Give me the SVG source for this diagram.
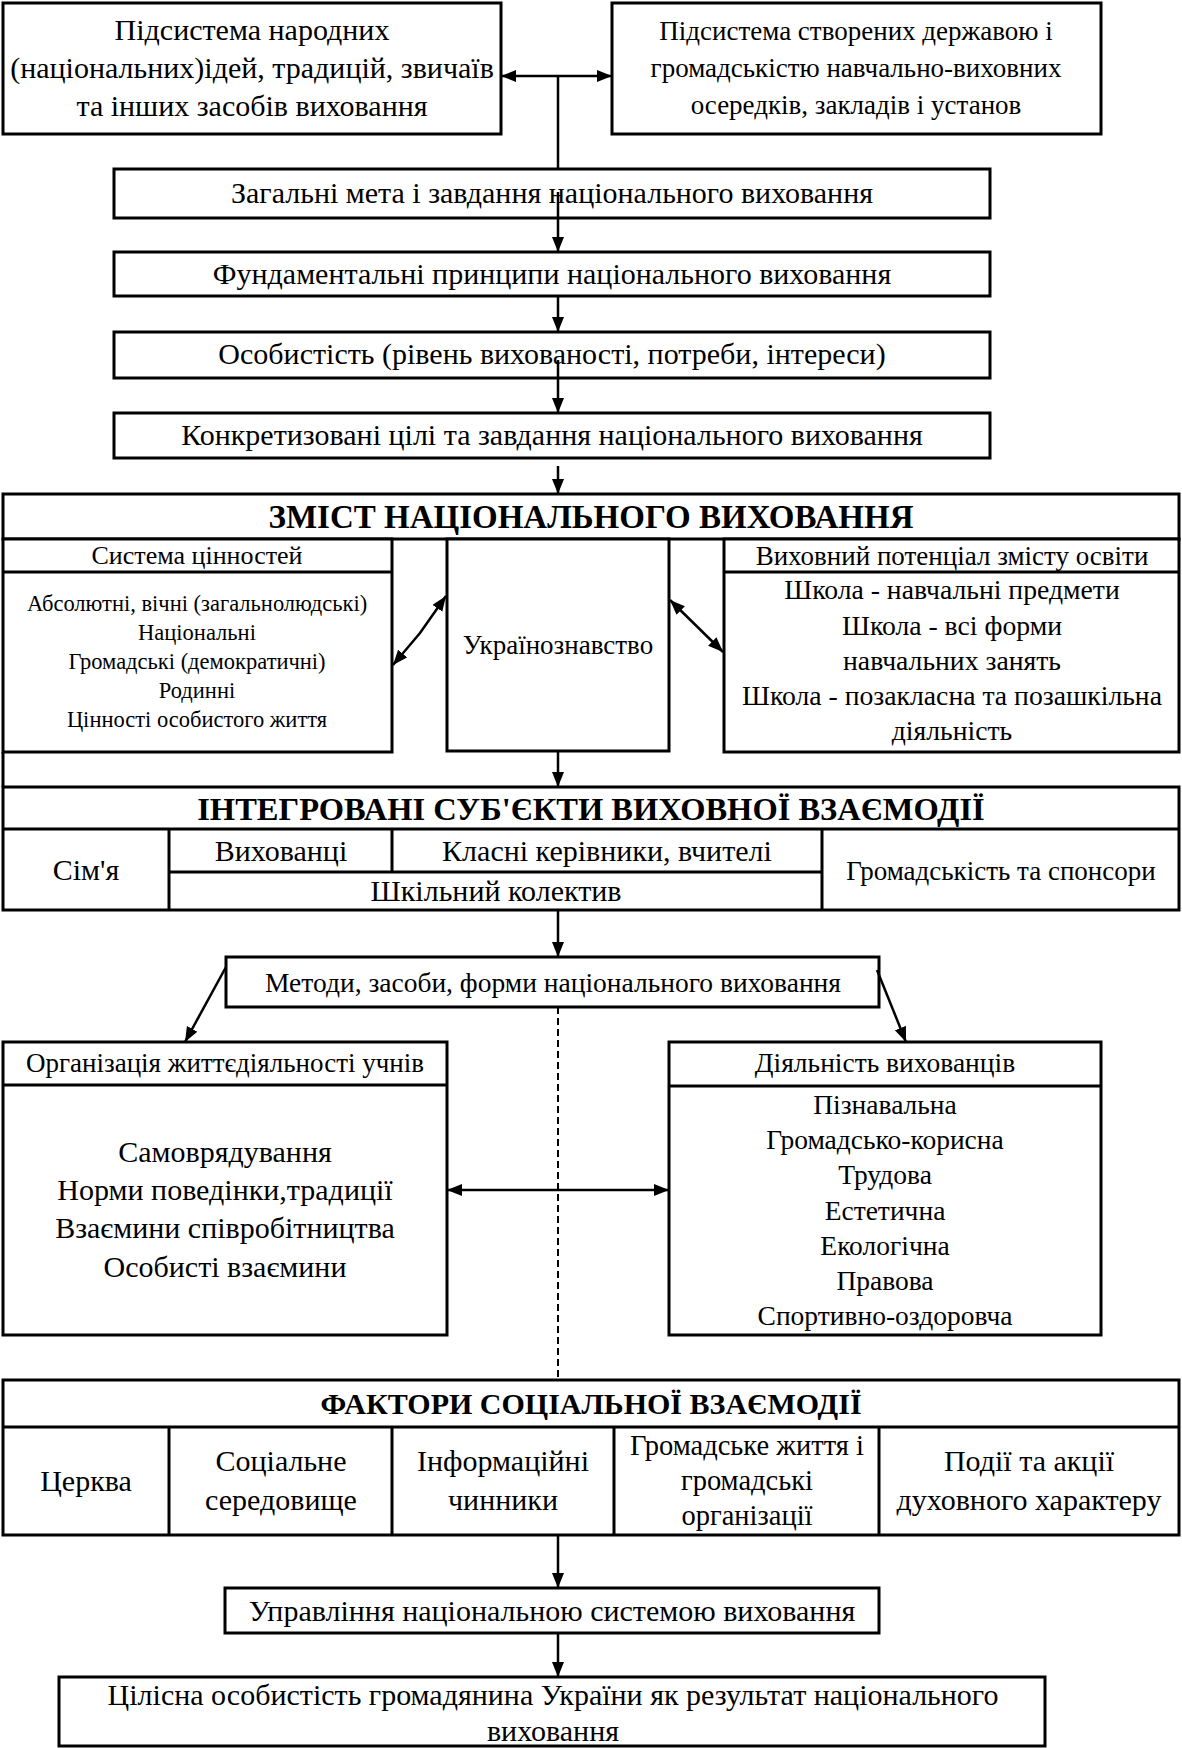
<svg xmlns="http://www.w3.org/2000/svg" width="1182" height="1748" viewBox="0 0 1182 1748">
<style>
  .bx{fill:#fff;stroke:#000;stroke-width:3}
  .ln{fill:none;stroke:#000;stroke-width:3}
  .t{font-family:"Liberation Serif","Times New Roman",serif;fill:#000;text-anchor:middle}
  .b{font-weight:bold}
  .c{fill:none;stroke:#000;stroke-width:2.5}
  .d{fill:none;stroke:#000;stroke-width:2;stroke-dasharray:7 4}
</style>
<defs>
  <marker id="ah" markerUnits="userSpaceOnUse" markerWidth="16" markerHeight="13" refX="15" refY="6" orient="auto-start-reverse">
    <path d="M0,0 L15,6 L0,12 z" fill="#000"/>
  </marker>
</defs>
<rect width="1182" height="1748" fill="#fff"/>

<g id="node-folk">
  <rect class="bx" x="3" y="3" width="498" height="131"/>
  <text class="t" font-size="30" x="252" y="40">Підсистема народних</text>
  <text class="t" font-size="30" x="252" y="78">(національних)ідей, традицій, звичаїв</text>
  <text class="t" font-size="30" x="252" y="116">та інших засобів виховання</text>
</g>
<g id="node-state">
  <rect class="bx" x="612" y="3" width="489" height="131"/>
  <text class="t" font-size="27" x="856" y="40">Підсистема створених державою і</text>
  <text class="t" font-size="27" x="856" y="77">громадськістю навчально-виховних</text>
  <text class="t" font-size="27" x="856" y="114">осередків, закладів і установ</text>
</g>
<g id="node-goals">
  <rect class="bx" x="114" y="169" width="876" height="49"/>
  <text class="t" font-size="30" x="552" y="203">Загальні мета і завдання національного виховання</text>
</g>
<g id="node-principles">
  <rect class="bx" x="114" y="252" width="876" height="44"/>
  <text class="t" font-size="30" x="552" y="284">Фундаментальні принципи національного виховання</text>
</g>
<g id="node-personality">
  <rect class="bx" x="114" y="332" width="876" height="46"/>
  <text class="t" font-size="30" x="552" y="364">Особистість (рівень вихованості, потреби, інтереси)</text>
</g>
<g id="node-concrete">
  <rect class="bx" x="114" y="413" width="876" height="45"/>
  <text class="t" font-size="30" x="552" y="445">Конкретизовані цілі та завдання національного виховання</text>
</g>

<g id="node-content">
  <rect class="bx" x="3" y="494" width="1176" height="45"/>
  <text class="t b" font-size="33" x="591" y="528">ЗМІСТ НАЦІОНАЛЬНОГО ВИХОВАННЯ</text>
  <line class="ln" x1="3" y1="752" x2="3" y2="787"/>
</g>
<g id="node-values">
  <rect class="bx" x="3" y="539" width="389" height="213"/>
  <line class="ln" x1="3" y1="572" x2="392" y2="572"/>
  <text class="t" font-size="26" x="197" y="564">Система цінностей</text>
  <text class="t" font-size="22.5" x="197" y="611">Абсолютні, вічні (загальнолюдські)</text>
  <text class="t" font-size="22.5" x="197" y="640">Національні</text>
  <text class="t" font-size="22.5" x="197" y="669">Громадські (демократичні)</text>
  <text class="t" font-size="22.5" x="197" y="698">Родинні</text>
  <text class="t" font-size="22.5" x="197" y="727">Цінності особистого життя</text>
</g>
<g id="node-ukrainian-studies">
  <rect class="bx" x="447" y="539" width="222" height="212"/>
  <text class="t" font-size="27" x="558" y="654">Українознавство</text>
</g>
<g id="node-potential">
  <rect class="bx" x="724" y="539" width="455" height="213"/>
  <line class="ln" x1="724" y1="572" x2="1179" y2="572"/>
  <text class="t" font-size="27" x="952" y="565">Виховний потенціал змісту освіти</text>
  <text class="t" font-size="27.7" x="952" y="599">Школа - навчальні предмети</text>
  <text class="t" font-size="27.7" x="952" y="635">Школа - всі форми</text>
  <text class="t" font-size="27.7" x="952" y="670">навчальних занять</text>
  <text class="t" font-size="27.7" x="952" y="705">Школа - позакласна та позашкільна</text>
  <text class="t" font-size="27.7" x="952" y="740">діяльність</text>
</g>

<g id="node-subjects">
  <rect class="bx" x="3" y="787" width="1176" height="123"/>
  <line class="ln" x1="3" y1="829" x2="1179" y2="829"/>
  <line class="ln" x1="169" y1="829" x2="169" y2="910"/>
  <line class="ln" x1="392" y1="829" x2="392" y2="872"/>
  <line class="ln" x1="822" y1="829" x2="822" y2="910"/>
  <line class="ln" x1="169" y1="872" x2="822" y2="872"/>
  <text class="t b" font-size="32.5" x="591" y="820">ІНТЕГРОВАНІ СУБ'ЄКТИ ВИХОВНОЇ ВЗАЄМОДІЇ</text>
  <text class="t" font-size="30" x="86" y="880">Сім'я</text>
  <text class="t" font-size="30" x="281" y="861">Вихованці</text>
  <text class="t" font-size="30" x="607" y="861">Класні керівники, вчителі</text>
  <text class="t" font-size="30" x="496" y="901">Шкільний колектив</text>
  <text class="t" font-size="27" x="1001" y="880">Громадськість та спонсори</text>
</g>

<g id="node-methods">
  <rect class="bx" x="226" y="957" width="653" height="50"/>
  <text class="t" font-size="27.5" x="553" y="992">Методи, засоби, форми національного виховання</text>
</g>
<g id="node-organization">
  <rect class="bx" x="3" y="1042" width="444" height="293"/>
  <line class="ln" x1="3" y1="1085" x2="447" y2="1085"/>
  <text class="t" font-size="27" x="225" y="1072">Організація життєдіяльності учнів</text>
  <text class="t" font-size="30" x="225" y="1162">Самоврядування</text>
  <text class="t" font-size="30" x="225" y="1200">Норми поведінки,традиції</text>
  <text class="t" font-size="30" x="225" y="1238">Взаємини співробітництва</text>
  <text class="t" font-size="30" x="225" y="1277">Особисті взаємини</text>
</g>
<g id="node-activity">
  <rect class="bx" x="669" y="1042" width="432" height="293"/>
  <line class="ln" x1="669" y1="1086" x2="1101" y2="1086"/>
  <text class="t" font-size="27.5" x="885" y="1072">Діяльність вихованців</text>
  <text class="t" font-size="27.5" x="885" y="1114">Пізнавальна</text>
  <text class="t" font-size="27.5" x="885" y="1149">Громадсько-корисна</text>
  <text class="t" font-size="27.5" x="885" y="1184">Трудова</text>
  <text class="t" font-size="27.5" x="885" y="1220">Естетична</text>
  <text class="t" font-size="27.5" x="885" y="1255">Екологічна</text>
  <text class="t" font-size="27.5" x="885" y="1290">Правова</text>
  <text class="t" font-size="27.5" x="885" y="1325">Спортивно-оздоровча</text>
</g>

<g id="node-factors">
  <rect class="bx" x="3" y="1380" width="1176" height="155"/>
  <line class="ln" x1="3" y1="1427" x2="1179" y2="1427"/>
  <line class="ln" x1="169" y1="1427" x2="169" y2="1535"/>
  <line class="ln" x1="392" y1="1427" x2="392" y2="1535"/>
  <line class="ln" x1="614" y1="1427" x2="614" y2="1535"/>
  <line class="ln" x1="879" y1="1427" x2="879" y2="1535"/>
  <text class="t b" font-size="30" x="591" y="1414">ФАКТОРИ СОЦІАЛЬНОЇ ВЗАЄМОДІЇ</text>
  <text class="t" font-size="30" x="86" y="1491">Церква</text>
  <text class="t" font-size="30" x="281" y="1471">Соціальне</text>
  <text class="t" font-size="30" x="281" y="1510">середовище</text>
  <text class="t" font-size="30" x="503" y="1471">Інформаційні</text>
  <text class="t" font-size="30" x="503" y="1510">чинники</text>
  <text class="t" font-size="28.5" x="747" y="1455">Громадське життя і</text>
  <text class="t" font-size="28.5" x="747" y="1490">громадські</text>
  <text class="t" font-size="28.5" x="747" y="1525">організації</text>
  <text class="t" font-size="30" x="1029" y="1471">Події та акції</text>
  <text class="t" font-size="30" x="1029" y="1510">духовного характеру</text>
</g>
<g id="node-management">
  <rect class="bx" x="225" y="1588" width="654" height="45"/>
  <text class="t" font-size="30" x="552" y="1621">Управління національною системою виховання</text>
</g>
<g id="node-result">
  <rect class="bx" x="59" y="1677" width="986" height="69"/>
  <text class="t" font-size="30" x="553" y="1705">Цілісна особистість громадянина України як результат національного</text>
  <text class="t" font-size="30" x="553" y="1741">виховання</text>
</g>

<g id="connectors">
  <line class="c" x1="501" y1="76" x2="612" y2="76" marker-start="url(#ah)" marker-end="url(#ah)"/>
  <line class="c" x1="558" y1="76" x2="558" y2="169"/>
  <line class="c" x1="558" y1="192" x2="558" y2="252" marker-end="url(#ah)"/>
  <line class="c" x1="558" y1="296" x2="558" y2="332" marker-end="url(#ah)"/>
  <line class="c" x1="558" y1="360" x2="558" y2="413" marker-end="url(#ah)"/>
  <line class="c" x1="558" y1="466" x2="558" y2="494" marker-end="url(#ah)"/>
  <polyline class="c" points="393,665 420,633 446,596" marker-start="url(#ah)" marker-end="url(#ah)"/>
  <line class="c" x1="670" y1="600" x2="723" y2="652" marker-start="url(#ah)" marker-end="url(#ah)"/>
  <line class="c" x1="558" y1="751" x2="558" y2="787" marker-end="url(#ah)"/>
  <line class="c" x1="558" y1="910" x2="558" y2="957" marker-end="url(#ah)"/>
  <line class="c" x1="226" y1="967" x2="185" y2="1042" marker-end="url(#ah)"/>
  <line class="c" x1="877" y1="970" x2="906" y2="1042" marker-end="url(#ah)"/>
  <line class="d" x1="558" y1="1007" x2="558" y2="1380"/>
  <line class="c" x1="447" y1="1190" x2="669" y2="1190" marker-start="url(#ah)" marker-end="url(#ah)"/>
  <line class="c" x1="558" y1="1535" x2="558" y2="1588" marker-end="url(#ah)"/>
  <line class="c" x1="558" y1="1633" x2="558" y2="1677" marker-end="url(#ah)"/>
</g>
</svg>
